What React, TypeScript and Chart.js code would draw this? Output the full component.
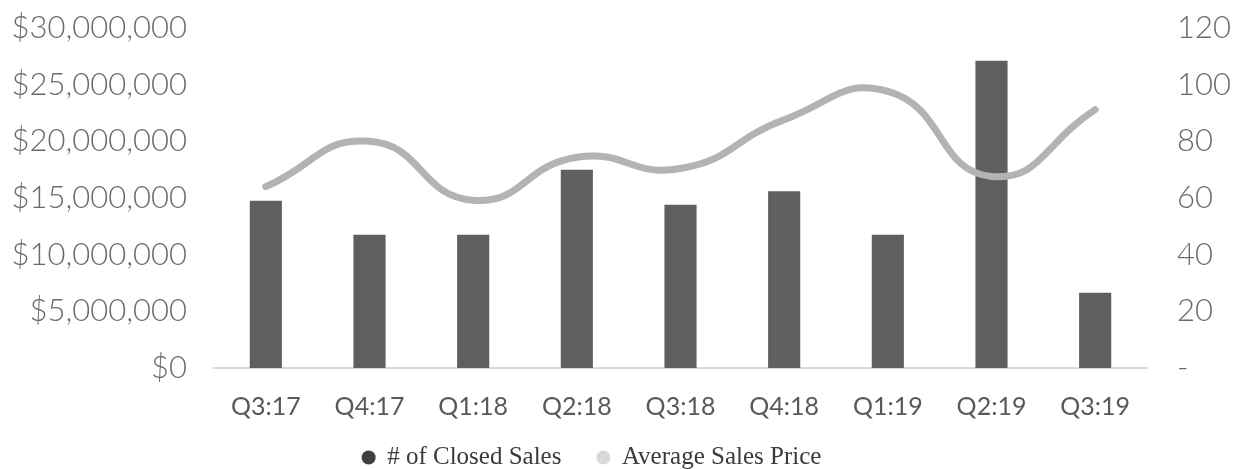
import React, { useEffect, useRef } from "react";
import { Chart, registerables } from "chart.js";

Chart.register(...registerables);

const quarters = ["Q3:17", "Q4:17", "Q1:18", "Q2:18", "Q3:18", "Q4:18", "Q1:19", "Q2:19", "Q3:19"];
const closedSales = [59, 47, 47, 70, 57.6, 62.4, 47, 108.4, 26.6];
const avgSalesPrice = [16.0e6, 20.0e6, 14.8e6, 18.6e6, 17.6e6, 21.9e6, 24.4e6, 16.9e6, 22.8e6];
const priceTicksMax = 30000000;
const priceStep = 5000000;
const countTicksMax = 120;
const countStep = 20;
const seriesNames = ["# of Closed Sales", "Average Sales Price"];
const legendColors = ["#404040", "#d9d9d9"];

const legendShift = {
  id: "legendShift",
  afterLayout(chart: any) {
    const l = chart.legend;
    if (!l) return;
    l.left -= 27;
    l.right -= 27;
    l.top -= 14;
    l.bottom -= 14;
  },
};

export default function App() {
  const ref = useRef<HTMLCanvasElement | null>(null);

  useEffect(() => {
    document.body.style.margin = "0";
    const canvas = ref.current;
    if (!canvas) return;
    const tickFont = { family: "Lato", size: 31, weight: 300 as any };
    const chart = new Chart(canvas, {
      type: "bar",
      data: {
        labels: quarters,
        datasets: [
          {
            type: "bar",
            label: seriesNames[0],
            data: closedSales,
            backgroundColor: "#5f5f5f",
            borderWidth: 0,
            yAxisID: "yCount",
            barPercentage: 0.31,
            categoryPercentage: 1,
            order: 2,
          },
          {
            type: "line",
            label: seriesNames[1],
            data: avgSalesPrice,
            borderColor: "#b3b3b3",
            backgroundColor: "#d9d9d9",
            borderWidth: 7,
            borderCapStyle: "round",
            tension: 0.5,
            pointRadius: 0,
            fill: false,
            yAxisID: "yPrice",
            order: 1,
          } as any,
        ],
      },
      plugins: [legendShift],
      options: {
        responsive: false,
        animation: false,
        devicePixelRatio: 1,
        layout: { padding: { top: 28, right: 0, bottom: -25, left: 0 } },
        plugins: {
          tooltip: { enabled: false },
          legend: {
            position: "bottom",
            labels: {
              usePointStyle: true,
              pointStyle: "circle",
              boxWidth: 12,
              boxHeight: 10,
              padding: 36,
              color: "#3a3a3a",
              font: { family: "Liberation Serif", size: 25 },
              sort: (a: any, b: any) => a.datasetIndex - b.datasetIndex,
              generateLabels: (c: any) => {
                const items = Chart.defaults.plugins.legend.labels.generateLabels(c);
                return items.map((it: any) => ({
                  ...it,
                  fillStyle: legendColors[it.datasetIndex],
                  strokeStyle: legendColors[it.datasetIndex],
                  lineWidth: 0,
                  pointStyle: "circle",
                }));
              },
            },
          },
        },
        scales: {
          x: {
            offset: true,
            grid: { display: false, drawTicks: false },
            border: { display: true, color: "#d9d9d9", width: 2 },
            ticks: {
              color: "#595959",
              font: { family: "Lato", size: 25 },
              padding: 24,
              maxRotation: 0,
              autoSkip: false,
            },
            afterFit: (s: any) => {
              s.height = 55;
            },
          },
          yPrice: {
            position: "left",
            min: 0,
            max: priceTicksMax,
            grid: { display: false, drawTicks: true, tickLength: 27 },
            border: { display: false },
            ticks: {
              stepSize: priceStep,
              color: "#6a6a6a",
              font: tickFont,
              padding: 0,
              callback: (v: any) => "$" + Number(v).toLocaleString("en-US"),
            },
            afterFit: (s: any) => {
              s.width = 214;
            },
          },
          yCount: {
            position: "right",
            min: 0,
            max: countTicksMax,
            grid: { display: false, drawTicks: true, tickLength: 30 },
            border: { display: false },
            ticks: {
              stepSize: countStep,
              color: "#6a6a6a",
              font: tickFont,
              padding: 0,
              callback: (v: any) => (Number(v) === 0 ? "-" : String(v)),
            },
            afterFit: (s: any) => {
              s.width = 91;
            },
          },
        },
      },
    });
    return () => chart.destroy();
  }, []);

  return (
    <div style={{ width: 1238, height: 469 }}>
      <canvas ref={ref} width={1238} height={469} />
    </div>
  );
}
